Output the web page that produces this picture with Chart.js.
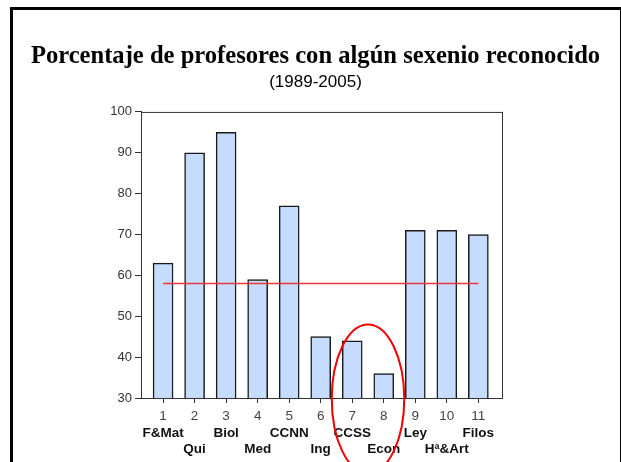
<!DOCTYPE html>
<html lang="es">
<head>
  <meta charset="UTF-8" />
  <title>Porcentaje de profesores con algún sexenio reconocido</title>
  <script src="https://cdn.jsdelivr.net/npm/chart.js"></script>
  <style>
    html, body { margin: 0; padding: 0; background: #fff; }
    #wrap { position: relative; width: 621px; height: 462px; overflow: hidden; }
    #frame { position: absolute; left: 10px; top: 7px; width: 607px; height: 470px;
             border: 3px solid #000; border-bottom: none; pointer-events: none; }
  </style>
</head>
<body>
  <div id="wrap">
    <canvas id="myChart" width="621" height="462"></canvas>
    <div id="frame"></div>
  </div>

  <script>
    // datos
    const numeros = [1, 2, 3, 4, 5, 6, 7, 8, 9, 10, 11];
    const areas = ['F&Mat', 'Qui', 'Biol', 'Med', 'CCNN', 'Ing', 'CCSS', 'Econ', 'Ley', 'Hª&Art', 'Filos'];
    const porcentajes = [63, 90, 95, 59, 77, 45, 44, 36, 71, 71, 70];
    const media = 58;
    const yTicks = [30, 40, 50, 60, 70, 80, 90, 100];

    const barras = numeros.map((n, i) => ({ x: n, y: porcentajes[i] }));
    const lineaMedia = [
      { x: numeros[0], y: media },
      { x: numeros[numeros.length - 1], y: media }
    ];

    // marco del area de dibujo y elipse roja sobre CCSS / Econ
    const extras = {
      id: 'extras',
      afterDatasetsDraw(chart) {
        const { ctx, chartArea: a } = chart;
        ctx.save();
        ctx.strokeStyle = '#333';
        ctx.lineWidth = 1;
        ctx.strokeRect(a.left + 0.5, a.top + 0.5, a.right - a.left, a.bottom - a.top);
        ctx.restore();
      },
      afterDraw(chart) {
        const { ctx, scales } = chart;
        const cx = scales.x.getPixelForValue(7.5);
        const cy = scales.y.getPixelForValue(29.8);
        const rx = scales.x.getPixelForValue(8.65) - cx;
        const ry = cy - scales.y.getPixelForValue(48);
        ctx.save();
        ctx.strokeStyle = '#f00000';
        ctx.lineWidth = 2;
        ctx.beginPath();
        ctx.ellipse(cx, cy, rx, ry, 0, 0, Math.PI * 2);
        ctx.stroke();
        ctx.restore();
      }
    };

    const ejeX = {
      type: 'linear',
      position: 'bottom',
      min: 0.3,
      max: 11.75,
      offset: false,
      afterBuildTicks: axis => { axis.ticks = numeros.map(v => ({ value: v })); }
    };

    const ctx = document.getElementById('myChart').getContext('2d');
    const chart = new Chart(ctx, {
      type: 'bar',
      data: {
        datasets: [{
          type: 'line',
          data: lineaMedia,
          borderColor: '#e8363c',
          borderWidth: 1.5,
          pointRadius: 0,
          fill: false,
          order: 0
        }, {
          data: barras,
          backgroundColor: '#c6dcfe',
          borderColor: '#1a1a1a',
          borderWidth: 1.5,
          barThickness: 20,
          order: 1
        }]
      },
      options: {
        responsive: false,
        animation: false,
        layout: { padding: { left: 10, right: 0, top: 0, bottom: 0 } },
        plugins: {
          legend: { display: false },
          tooltip: { enabled: false },
          title: {
            display: true,
            text: 'Porcentaje de profesores con algún sexenio reconocido',
            color: '#000',
            font: { family: 'Liberation Serif', size: 24.6, weight: 'bold' },
            padding: { top: 42, bottom: 0 }
          },
          subtitle: {
            display: true,
            text: '(1989-2005)',
            color: '#000',
            font: { family: 'Liberation Sans', size: 17 },
            padding: { top: 1, bottom: 19 }
          }
        },
        scales: {
          x: {
            ...ejeX,
            afterFit: axis => { axis.height = 24; },
            grid: { drawOnChartArea: false, offset: false, tickLength: 5, color: '#333' },
            border: { color: '#333' },
            ticks: {
              color: '#444',
              autoSkip: false,
              maxRotation: 0,
              minRotation: 0,
              font: { family: 'Liberation Sans', size: 13.5 },
              padding: 5
            }
          },
          x2: {
            ...ejeX,
            afterFit: axis => { axis.height = 40; },
            grid: { display: false, drawTicks: false, offset: false },
            border: { display: false },
            ticks: {
              color: '#111',
              autoSkip: false,
              maxRotation: 0,
              minRotation: 0,
              font: { family: 'Liberation Sans', size: 13.5, weight: 'bold' },
              lineHeight: 1.1,
              padding: 3,
              callback: v => {
                const i = numeros.indexOf(v);
                return i % 2 === 0 ? [areas[i]] : ['', areas[i]];
              }
            }
          },
          y: {
            min: 30,
            max: 100,
            afterBuildTicks: axis => { axis.ticks = yTicks.map(v => ({ value: v })); },
            afterFit: axis => { axis.width = 131; },
            grid: { drawOnChartArea: false, tickLength: 6, color: '#333' },
            border: { color: '#333' },
            ticks: {
              color: '#333',
              font: { family: 'Liberation Sans', size: 13 },
              padding: 3
            }
          },
          yDer: {
            position: 'right',
            min: 30,
            max: 100,
            afterFit: axis => { axis.width = 119; },
            grid: { display: false },
            border: { display: false },
            ticks: { display: false }
          }
        }
      },
      plugins: [extras]
    });
  </script>
</body>
</html>
